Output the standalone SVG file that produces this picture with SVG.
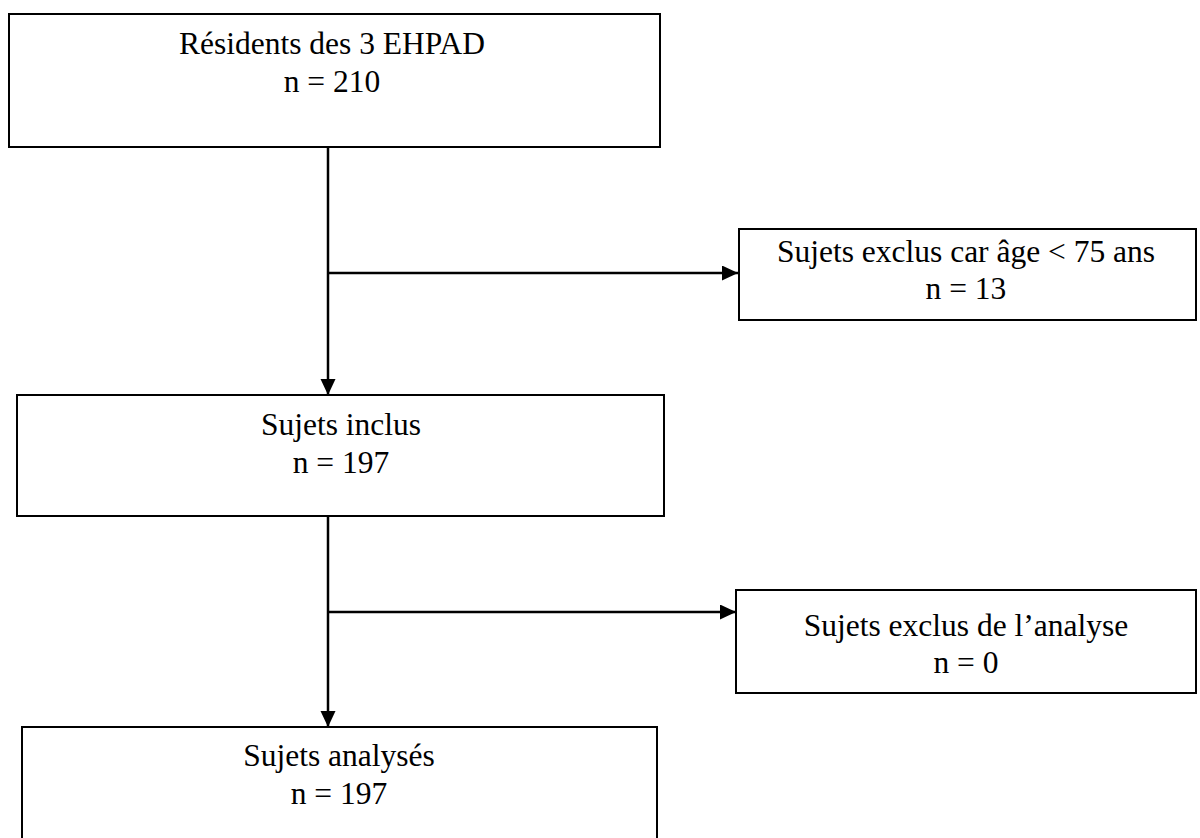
<svg xmlns="http://www.w3.org/2000/svg" width="1200" height="838" viewBox="0 0 1200 838">
<defs>
<marker id="ah" markerUnits="userSpaceOnUse" markerWidth="16" markerHeight="16" refX="16" refY="7.5" orient="auto">
<path d="M0,0 L16,7.5 L0,15 Z" fill="#000"/>
</marker>
<style>
.box{fill:#fff;stroke:#000;stroke-width:2}
.t{font-family:"Liberation Serif","Times New Roman",serif;font-size:31.5px;fill:#000;text-anchor:middle}
.c{stroke:#000;stroke-width:2.5;fill:none}
</style>
</defs>
<rect width="1200" height="838" fill="#fff"/>
<g id="connectors">
<line class="c" x1="328" y1="147" x2="328" y2="395" marker-end="url(#ah)"/>
<line class="c" x1="328" y1="273" x2="738" y2="273" marker-end="url(#ah)"/>
<line class="c" x1="328" y1="516" x2="328" y2="727" marker-end="url(#ah)"/>
<line class="c" x1="328" y1="612" x2="736" y2="612" marker-end="url(#ah)"/>
</g>
<g id="n1">
<rect class="box" x="9" y="14" width="651" height="133"/>
<text class="t" x="332" y="54">Résidents des 3 EHPAD</text>
<text class="t" x="332" y="92">n = 210</text>
</g>
<g id="n2">
<rect class="box" x="739" y="229" width="457" height="91"/>
<text class="t" x="966" y="262">Sujets exclus car âge &lt; 75 ans</text>
<text class="t" x="966" y="299">n = 13</text>
</g>
<g id="n3">
<rect class="box" x="17" y="395" width="647" height="121"/>
<text class="t" x="341" y="435">Sujets inclus</text>
<text class="t" x="341" y="473">n = 197</text>
</g>
<g id="n4">
<rect class="box" x="736" y="590" width="460" height="103"/>
<text class="t" x="966" y="636">Sujets exclus de l’analyse</text>
<text class="t" x="966" y="673">n = 0</text>
</g>
<g id="n5">
<rect class="box" x="22" y="727" width="635" height="130"/>
<text class="t" x="339" y="766">Sujets analysés</text>
<text class="t" x="339" y="804">n = 197</text>
</g>
</svg>
